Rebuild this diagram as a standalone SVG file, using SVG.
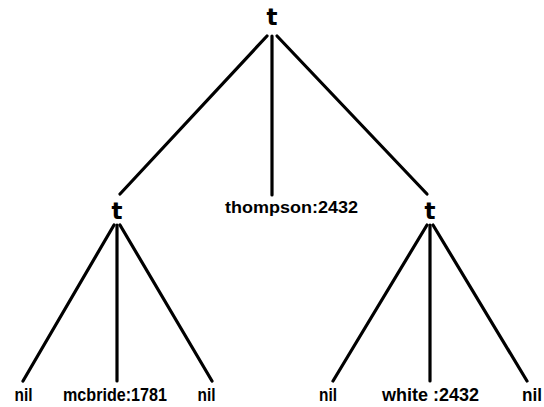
<svg xmlns="http://www.w3.org/2000/svg" width="544" height="407" viewBox="0 0 544 407">
<style>
.edge{stroke:#000;stroke-width:3.2;fill:none;stroke-linecap:round}
.lbl{font-family:"Liberation Sans","DejaVu Sans",sans-serif;font-weight:bold;font-size:19px;fill:#000;text-anchor:middle}
.mid{font-size:17px}
.t{font-family:"DejaVu Sans","Liberation Sans",sans-serif;font-weight:bold;font-size:23px;fill:#000;text-anchor:middle}
</style>
<rect width="544" height="407" fill="#fff"/>
<g id="connectors">
<line class="edge" x1="267" y1="36" x2="120" y2="194"/>
<line class="edge" x1="272" y1="36" x2="272" y2="195"/>
<line class="edge" x1="277" y1="36" x2="427" y2="194"/>
<line class="edge" x1="114" y1="225" x2="23" y2="381"/>
<line class="edge" x1="117" y1="225" x2="117" y2="381"/>
<line class="edge" x1="120" y1="225" x2="212" y2="381"/>
<line class="edge" x1="427" y1="225" x2="333" y2="381"/>
<line class="edge" x1="430" y1="225" x2="430" y2="381"/>
<line class="edge" x1="433" y1="225" x2="527" y2="381"/>
</g>
<g id="root"><text class="t" x="272" y="25">t</text></g>
<g id="left"><text class="t" x="117" y="219">t</text></g>
<g id="thompson"><text class="lbl mid" x="291.5" y="213" textLength="133" lengthAdjust="spacingAndGlyphs">thompson:2432</text></g>
<g id="right"><text class="t" x="430" y="219">t</text></g>
<g id="nil1"><text class="lbl" x="23.5" y="401" textLength="18" lengthAdjust="spacingAndGlyphs">nil</text></g>
<g id="mcbride"><text class="lbl" x="115" y="401" textLength="104" lengthAdjust="spacingAndGlyphs">mcbride:1781</text></g>
<g id="nil2"><text class="lbl" x="206.5" y="401" textLength="18" lengthAdjust="spacingAndGlyphs">nil</text></g>
<g id="nil3"><text class="lbl" x="328" y="401" textLength="18" lengthAdjust="spacingAndGlyphs">nil</text></g>
<g id="white"><text class="lbl" x="430.5" y="401" textLength="97" lengthAdjust="spacingAndGlyphs">white :2432</text></g>
<g id="nil4"><text class="lbl" x="532" y="401" textLength="20" lengthAdjust="spacingAndGlyphs">nil</text></g>
</svg>
